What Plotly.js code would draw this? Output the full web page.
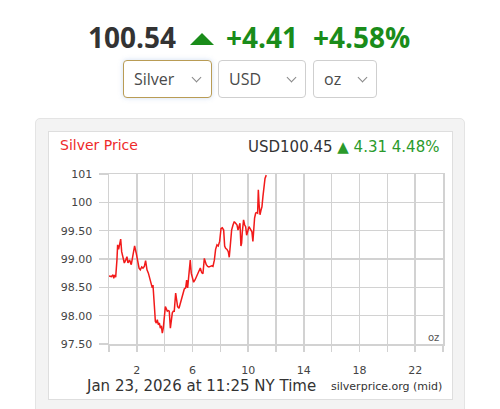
<!DOCTYPE html>
<html>
<head>
<meta charset="utf-8">
<script src="https://cdn.plot.ly/plotly-3.0.1.min.js"></script>
<style>
  html, body { margin: 0; padding: 0; background: #fff; }
  #wrap { position: relative; width: 500px; height: 409px; overflow: hidden; font-family: "Open Sans", "Noto Sans", sans-serif; }
  .big { position: absolute; top: 23px; font-size: 28px; line-height: 28px; font-weight: 700; white-space: nowrap; }
  .tri { position: absolute; left: 190px; top: 33px; width: 0; height: 0;
         border-left: 12.5px solid transparent; border-right: 12.5px solid transparent; border-bottom: 12px solid #1a8c1a; }
  .sel { position: absolute; top: 60px; height: 38px; box-sizing: border-box; border: 1px solid #cfcfcf; border-radius: 4px;
         background: #fff; font-size: 16px; line-height: 36px; color: #4a4a4a; }
  .sel span { position: absolute; left: 10px; top: 0; }
  .chev { position: absolute; right: 10px; top: 13px; width: 6px; height: 6px; border-right: 1px solid #888; border-bottom: 1px solid #888; transform: rotate(45deg); }
  #outer { position: absolute; left: 35px; top: 118px; width: 430px; height: 310px; box-sizing: border-box;
           background: #f3f3f3; border: 1px solid #e4e4e4; border-radius: 5px; }
  #inner { position: absolute; left: 48px; top: 131px; width: 405px; height: 269px; box-sizing: border-box;
           background: #fff; border: 1px solid #dedede; }
  #chart { position: absolute; left: 0; top: 0; width: 500px; height: 409px; }
</style>
</head>
<body>
<div id="wrap">
  <div class="big" style="left:88px;color:#333;">100.54</div>
  <div class="tri"></div>
  <div class="big" style="left:226px;color:#1a8c1a;">+4.41</div>
  <div class="big" style="left:313px;color:#1a8c1a;">+4.58%</div>

  <div class="sel" style="left:123px;width:89px;border-color:#b99c55;box-shadow:0 0 5px rgba(120,160,220,0.35);"><span>Silver</span><div class="chev" style="right:11px"></div></div>
  <div class="sel" style="left:218px;width:88px;"><span>USD</span><div class="chev"></div></div>
  <div class="sel" style="left:313px;width:64px;"><span>oz</span><div class="chev"></div></div>

  <div id="outer"></div>
  <div id="inner"></div>
  <div id="chart"></div>
</div>
<script>
// Hours since midnight (NY time), Jan 23, 2026
const hours = [0.00,0.17,0.29,0.34,0.41,0.48,0.57,0.62,0.69,0.77,0.84,0.91,1.01,1.10,1.20,1.29,1.36,1.48,1.60,1.72,
  1.84,1.96,2.06,2.16,2.25,2.35,2.44,2.54,2.63,2.73,2.83,2.92,3.02,3.11,3.16,3.21,3.28,3.33,3.40,3.47,
  3.54,3.62,3.69,3.76,3.83,3.90,3.98,4.05,4.12,4.19,4.26,4.33,4.41,4.48,4.55,4.62,4.69,4.79,4.86,4.93,
  5.03,5.12,5.22,5.32,5.41,5.51,5.58,5.65,5.75,5.84,5.91,5.99,6.08,6.18,6.27,6.37,6.47,6.56,6.66,6.75,
  6.85,6.92,6.99,7.09,7.18,7.28,7.38,7.47,7.57,7.66,7.76,7.85,7.95,8.05,8.14,8.24,8.31,8.38,8.48,8.57,
  8.64,8.72,8.81,8.91,9.00,9.10,9.20,9.27,9.34,9.41,9.48,9.53,9.58,9.67,9.75,9.82,9.89,9.96,10.06,10.13,
  10.20,10.27,10.34,10.39,10.46,10.54,10.61,10.68,10.73,10.78,10.85,10.92,10.99,11.06,11.13,11.21,11.30];
// Silver price, USD per oz
const prices = [98.70,98.69,98.72,98.66,98.72,98.68,98.98,99.25,99.17,99.28,99.35,99.13,99.01,98.93,98.98,99.04,98.93,98.98,98.90,99.04,
  99.23,99.10,98.98,98.84,98.81,98.86,98.84,98.87,98.97,98.81,98.75,98.68,98.60,98.49,98.54,98.40,98.10,97.90,97.87,97.93,
  97.84,97.87,97.78,97.82,97.69,97.78,97.99,98.16,98.12,98.08,98.09,98.08,97.78,97.99,98.05,98.08,98.08,98.40,98.25,98.16,
  98.13,98.22,98.28,98.37,98.47,98.49,98.63,98.49,98.75,98.98,98.75,98.64,98.59,98.63,98.68,98.72,98.78,98.84,98.76,98.74,
  99.01,98.93,98.90,98.87,98.86,98.87,98.88,98.87,98.98,99.17,99.25,99.23,99.31,99.54,99.55,99.51,99.23,99.19,99.17,99.13,
  99.03,99.25,99.51,99.60,99.66,99.63,99.60,99.51,99.60,99.63,99.23,99.28,99.48,99.69,99.60,99.57,99.42,99.48,99.57,99.54,
  99.51,99.48,99.31,99.57,99.72,99.81,99.82,99.81,100.22,99.98,99.78,99.86,99.92,100.10,100.28,100.42,100.48];

const xTickVals = [0,2,4,6,8,10,12,14,16,18,20,22,24];
const xTickText = ["","2","","6","","10","","14","","18","","22",""];
const yTickVals = [97.5,98,98.5,99,99.5,100,100.5];
const yTickText = ["97.50","98.00","98.50","99.00","99.50","100","101"];

const gridC = '#d2d2d2';
const tickFont = {family: 'DejaVu Sans, Verdana, sans-serif', size: 11, color: '#444'};

const trace = {
  x: hours, y: prices, type: 'scatter', mode: 'lines',
  line: {color: '#f21a1a', width: 1.5}, hoverinfo: 'skip'
};

// plot area: x 109..443, y 174..344
const X = px => (px - 109) / 334;
const Y = py => (344 - py) / 170;

const layout = {
  width: 500, height: 409,
  margin: {l: 109, r: 57, t: 174, b: 65, pad: 0},
  paper_bgcolor: 'rgba(0,0,0,0)', plot_bgcolor: 'rgba(0,0,0,0)',
  showlegend: false,
  xaxis: {
    range: [0, 24], tickmode: 'array', tickvals: xTickVals, ticktext: xTickText,
    showgrid: true, gridcolor: gridC, gridwidth: 1.5, zeroline: false,
    showline: true, mirror: true, linecolor: gridC, linewidth: 1.5,
    ticks: 'outside', ticklen: 6, tickwidth: 1.5, tickcolor: gridC,
    tickfont: tickFont, ticklabelstandoff: 9, fixedrange: true
  },
  yaxis: {
    range: [97.5, 100.5], tickmode: 'array', tickvals: yTickVals, ticktext: yTickText,
    showgrid: true, gridcolor: gridC, gridwidth: 1.5, zeroline: false,
    showline: true, mirror: true, linecolor: gridC, linewidth: 1.5,
    ticks: 'outside', ticklen: 9, tickwidth: 1.5, tickcolor: gridC,
    tickfont: tickFont, ticklabelstandoff: 4, fixedrange: true
  },
  annotations: [
    {xref: 'paper', yref: 'paper', x: X(58), y: Y(145), xanchor: 'left', yanchor: 'middle', showarrow: false,
     text: 'Silver Price', font: {family: 'DejaVu Sans, Verdana, sans-serif', size: 14, color: '#ee2a2a'}},
    {xref: 'paper', yref: 'paper', x: X(441), y: Y(147), xanchor: 'right', yanchor: 'middle', showarrow: false,
     text: '<span style="color:#333">USD100.45 </span><span style="color:#2b9a2b">▲ 4.31 4.48%</span>',
     font: {family: 'DejaVu Sans, Verdana, sans-serif', size: 15, color: '#333'}},
    {xref: 'paper', yref: 'paper', x: X(433), y: Y(337), xanchor: 'center', yanchor: 'middle', showarrow: false,
     text: 'oz', font: {family: 'DejaVu Sans, Verdana, sans-serif', size: 10, color: '#555'}},
    {xref: 'paper', yref: 'paper', x: X(84), y: Y(386), xanchor: 'left', yanchor: 'middle', showarrow: false,
     text: 'Jan 23, 2026 at 11:25 NY Time', font: {family: 'DejaVu Sans, Verdana, sans-serif', size: 15, color: '#333'}},
    {xref: 'paper', yref: 'paper', x: X(444), y: Y(386), xanchor: 'right', yanchor: 'middle', showarrow: false,
     text: 'silverprice.org (mid)', font: {family: 'DejaVu Sans, Verdana, sans-serif', size: 11, color: '#333'}}
  ]
};

Plotly.newPlot('chart', [trace], layout, {displayModeBar: false, staticPlot: true});
</script>
</body>
</html>
